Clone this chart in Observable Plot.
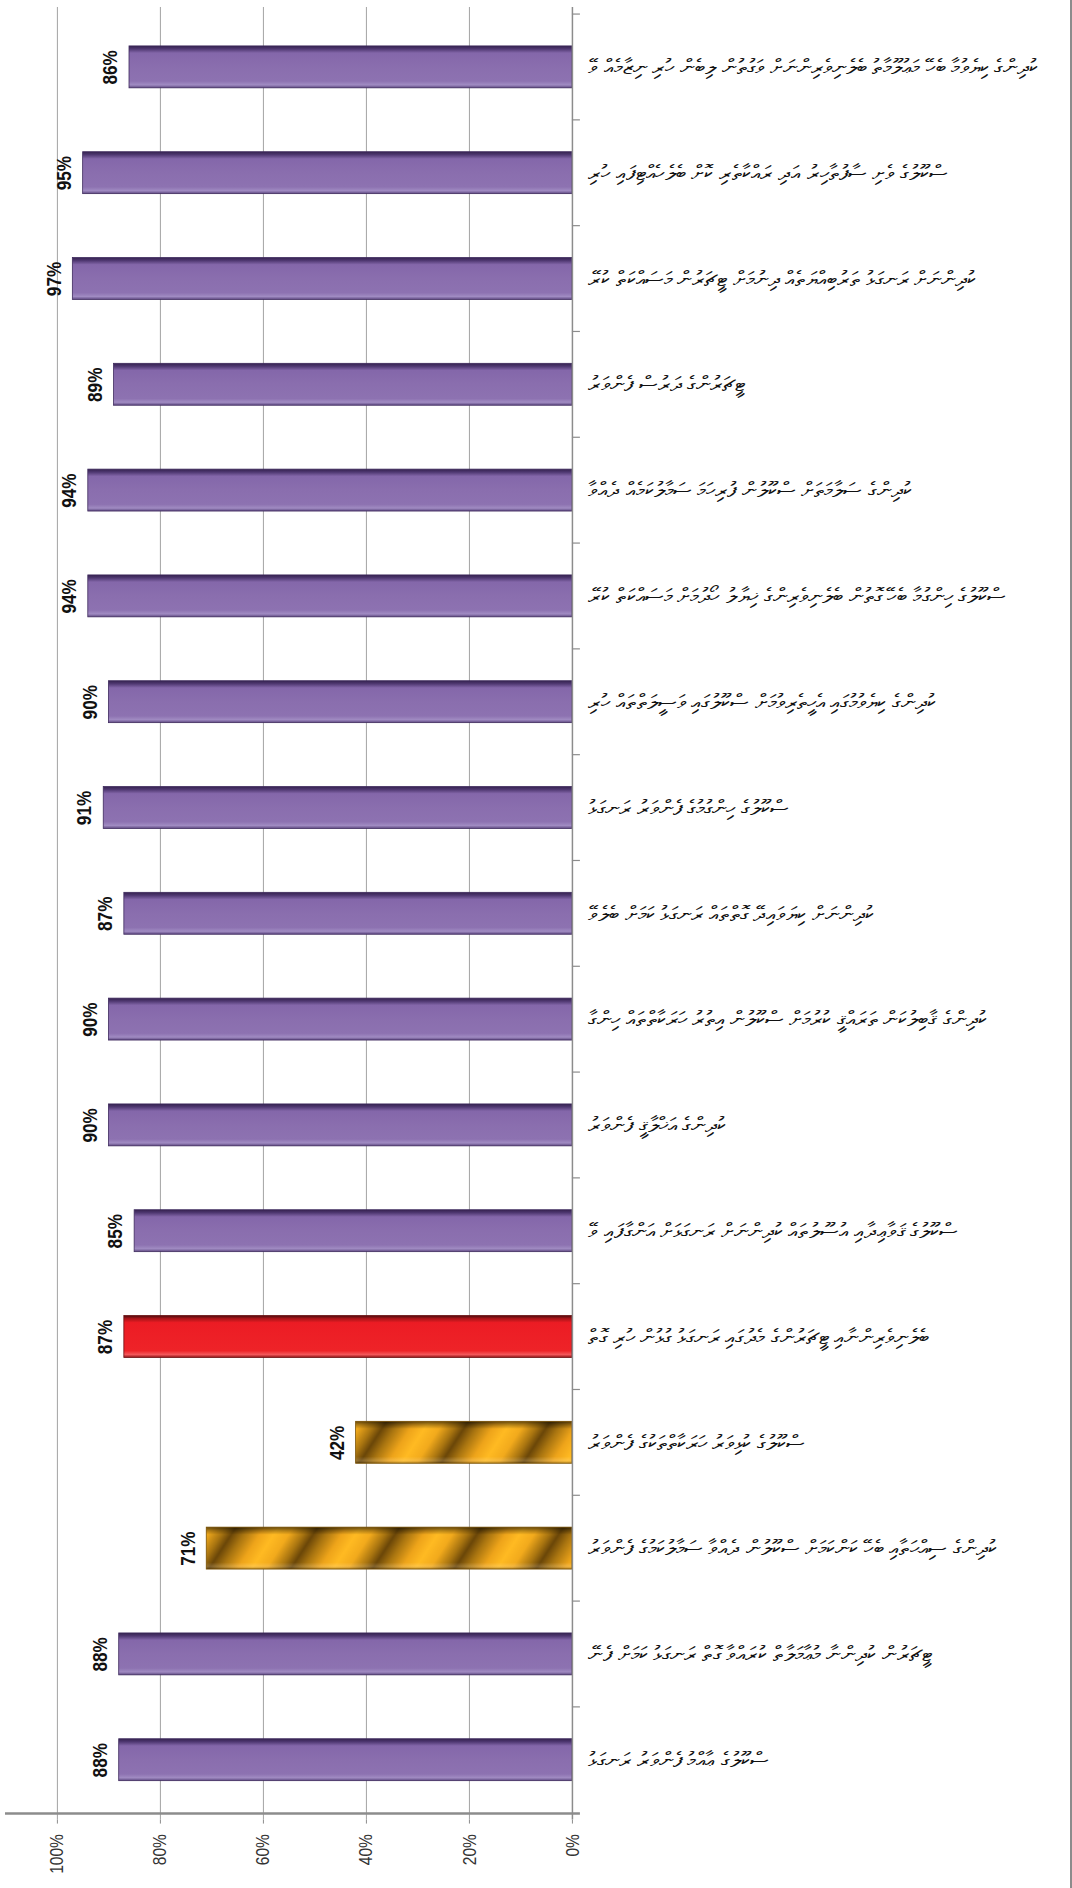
<!DOCTYPE html>
<html>
<head>
<meta charset="utf-8">
<script src="https://cdn.jsdelivr.net/npm/d3@7"></script>
<script src="https://cdn.jsdelivr.net/npm/@observablehq/plot@0.6"></script>
<style>
  html, body { margin: 0; padding: 0; background: #fff; }
  #wrap { width: 1072px; height: 1888px; box-sizing: border-box; border-right: 2px solid #8c8c8c; overflow: hidden; }
</style>
</head>
<body>
<div id="wrap"></div>
<script>
// ---- data (top to bottom as drawn) ----
const categories = [
  "ކުދިންގެ ކިޔެވުމާ ބެހޭ މަޢުލޫމާތު ބެލެނިވެރިންނަށް ވަގުތުން ލިބެން ހުރި ނިޒާމެއް ވޭ",
  "ސްކޫލުގެ ވެށި ސާފުތާހިރު އަދި ރައްކާތެރި ކޮށް ބެލެހެއްޓިފައި ހުރި",
  "ކުދިންނަށް ރަނގަޅު ތަރުބިއްޔަތެއް ދިނުމަށް ޓީޗަރުން މަސައްކަތް ކުރޭ",
  "ޓީޗަރުންގެ ދަރުސް ފެންވަރު",
  "ކުދިންގެ ސަލާމަތަށް ސްކޫލުން ފުރިހަމަ ސަމާލުކަމެއް ދެއްވާ",
  "ސްކޫލުގެ ހިންގުމާ ބެހޭ ގޮތުން ބެލެނިވެރިންގެ ޚިޔާލު ހޯދުމަށް މަސައްކަތް ކުރޭ",
  "ކުދިންގެ ކިޔެވުމުގައި އެހީތެރިވުމަށް ސްކޫލުގައި ވަސީލަތްތައް ހުރި",
  "ސްކޫލުގެ ހިންގުމުގެ ފެންވަރު ރަނގަޅު",
  "ކުދިންނަށް ކިޔަވައިދޭ ގޮތްތައް ރަނގަޅު ކަމަށް ބެލެވޭ",
  "ކުދިންގެ ޤާބިލުކަން ތަރައްޤީ ކުރުމަށް ސްކޫލުން އިތުރު ހަރަކާތްތައް ހިންގާ",
  "ކުދިންގެ އަޚްލާޤީ ފެންވަރު",
  "ސްކޫލުގެ ޤަވާޢިދާއި އުސޫލުތައް ކުދިންނަށް ރަނގަޅަށް އަންގާފައި ވޭ",
  "ބެލެނިވެރިންނާއި ޓީޗަރުންގެ މެދުގައި ރަނގަޅު ގުޅުން ހުރި ގޮތް",
  "ސްކޫލުގެ ކުޅިވަރު ހަރަކާތްތަކުގެ ފެންވަރު",
  "ކުދިންގެ ސިއްޙަތާއި ބެހޭ ކަންކަމަށް ސްކޫލުން ދެއްވާ ސަމާލުކަމުގެ ފެންވަރު",
  "ޓީޗަރުން ކުދިންނާ މުޢާމަލާތް ކުރައްވާ ގޮތް ރަނގަޅު ކަމަށް ފެނޭ",
  "ސްކޫލުގެ ޢާއްމު ފެންވަރު ރަނގަޅު"
];
const values = [86, 95, 97, 89, 94, 94, 90, 91, 87, 90, 90, 85, 87, 42, 71, 88, 88];
const kinds = ["purple","purple","purple","purple","purple","purple","purple","purple","purple","purple","purple","purple","red","gold","gold","purple","purple"];
const xTicks = [0, 20, 40, 60, 80, 100];

const data = categories.map((c, i) => ({category: c, value: values[i], kind: kinds[i]}));

// ---- layout ----
const W = 1072, H = 1888;
const mt = 7, mb = 65, ml = 57, mr = 499;
const step = (H - mt - mb) / categories.length;

const defs = () => {
  const d = d3.create("svg:defs");
  const lin = (id, stops, vertical = true) => {
    const g = d.append("linearGradient").attr("id", id)
      .attr("x1", 0).attr("y1", 0).attr("x2", vertical ? 0 : 1).attr("y2", vertical ? 1 : 0);
    for (const [o, c, op] of stops) g.append("stop").attr("offset", o).attr("stop-color", c).attr("stop-opacity", op ?? 1);
    return g;
  };
  lin("gPurple", [[0, "#35224f"], [0.07, "#4e3770"], [0.17, "#8467aa"], [0.5, "#8a6eae"], [0.84, "#8d72b1"], [0.93, "#a08bc2"], [1, "#5d4780"]]);
  lin("gRed", [[0, "#4a0c0e"], [0.07, "#a51418"], [0.17, "#ec1c24"], [0.84, "#ee2328"], [0.93, "#f3575a"], [1, "#8e1216"]]);
  lin("gBevel", [[0, "#000", 0.6], [0.08, "#000", 0.3], [0.18, "#000", 0], [0.84, "#fff", 0], [0.93, "#fff", 0.15], [1, "#000", 0.3]]);
  const goldH = d.append("linearGradient").attr("id", "gGoldH").attr("gradientUnits", "userSpaceOnUse")
    .attr("x1", 0).attr("y1", 0).attr("x2", 82).attr("y2", 0);
  for (const [o, c] of [[0, "#6a4608"], [0.15, "#a87410"], [0.35, "#eea41a"], [0.52, "#ffba22"], [0.7, "#f2aa1c"], [0.88, "#a87410"], [1, "#6a4608"]])
    goldH.append("stop").attr("offset", o).attr("stop-color", c);
  const pat = d.append("pattern").attr("id", "pGold").attr("patternUnits", "userSpaceOnUse")
    .attr("width", 82).attr("height", 400).attr("patternTransform", "skewX(-33)");
  pat.append("rect").attr("width", 82).attr("height", 400).attr("fill", "url(#gGoldH)");
  return d.node();
};

const chart = Plot.plot({
  width: W, height: H,
  marginTop: mt, marginBottom: mb, marginLeft: ml, marginRight: mr,
  style: {background: "#fff", fontFamily: "'Liberation Sans', Arial, sans-serif"},
  x: {domain: [0, 100], reverse: true},
  y: {domain: categories, paddingInner: 0.6, paddingOuter: 0.3, align: 0.5},
  marks: [
    defs,
    Plot.gridX(xTicks.filter(t => t > 0), {stroke: "#a3a3a3", strokeOpacity: 1, strokeWidth: 1}),
    Plot.barX(data, {filter: d => d.kind === "purple", x: "value", y: "category", fill: "url(#gPurple)", stroke: "#3f2b5e", strokeWidth: 0.8}),
    Plot.barX(data, {filter: d => d.kind === "red", x: "value", y: "category", fill: "url(#gRed)", stroke: "#6a0e10", strokeWidth: 0.8}),
    Plot.barX(data, {filter: d => d.kind === "gold", x: "value", y: "category", fill: "url(#pGold)"}),
    Plot.barX(data, {filter: d => d.kind === "gold", x: "value", y: "category", fill: "url(#gBevel)", stroke: "#7a5206", strokeWidth: 0.8}),
    Plot.ruleX([0], {stroke: "#8c8c8c", strokeWidth: 1.5}),
    Plot.ruleY(categories, {dy: -step / 2, insetLeft: W - ml - mr, insetRight: -8, stroke: "#8c8c8c", strokeWidth: 1.2}),
    Plot.ruleY([categories[categories.length - 1]], {dy: step / 2, insetLeft: -52, insetRight: -8, stroke: "#8c8c8c", strokeWidth: 2.5}),
    Plot.text(data, {x: "value", y: "category", text: d => d.value + "%", dx: -19, rotate: -90,
      fontWeight: "bold", fontSize: 21, fill: "#111", textAnchor: "middle"}),
    Plot.axisX({ticks: xTicks, tickFormat: d => d + "%", tickRotate: -90, tickSize: 4, tickPadding: 10,
      fontSize: 19, fill: "#333", stroke: "#8c8c8c", label: null, textAnchor: "end"}),
    Plot.axisY({anchor: "right", tickSize: 0, tickPadding: 16, fontSize: 21, fill: "#111",
      textAnchor: "start", label: null, fontFamily: "'Noto Sans', 'DejaVu Sans', sans-serif"})
  ]
});

// condense the rotated numerals along their reading direction, as in the reference
d3.select(chart).selectAll("text").each(function () {
  const t = this.getAttribute("transform");
  if (t && t.includes("rotate")) this.setAttribute("transform", t + " scale(0.82,1)");
});

document.getElementById("wrap").appendChild(chart);
</script>
</body>
</html>
